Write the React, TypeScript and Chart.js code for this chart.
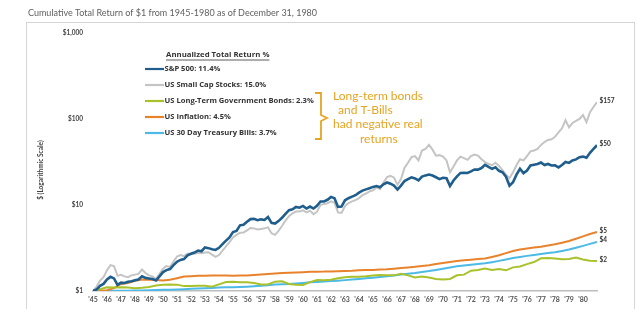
import React, { useEffect, useRef } from 'react';
import { Chart, registerables } from 'chart.js';

Chart.register(...registerables);

// Half-year time positions (start of 1945 to end of 1980)
const periods = [
  1945, 1945.5, 1946, 1946.5, 1947, 1947.5, 1948, 1948.5, 1949, 1949.5,
  1950, 1950.5, 1951, 1951.5, 1952, 1952.5, 1953, 1953.5, 1954, 1954.5,
  1955, 1955.5, 1956, 1956.5, 1957, 1957.5, 1958, 1958.5, 1959, 1959.5,
  1960, 1960.5, 1961, 1961.5, 1962, 1962.5, 1963, 1963.5, 1964, 1964.5,
  1965, 1965.5, 1966, 1966.5, 1967, 1967.5, 1968, 1968.5, 1969, 1969.5,
  1970, 1970.5, 1971, 1971.5, 1972, 1972.5, 1973, 1973.5, 1974, 1974.5,
  1975, 1975.5, 1976, 1976.5, 1977, 1977.5, 1978, 1978.5, 1979, 1979.5,
  1980, 1980.5, 1981,
];

// Quarter time positions for the stock series
const quarters = [
  1945, 1945.25, 1945.5, 1945.75, 1946, 1946.25, 1946.5, 1946.75,
  1947, 1947.25, 1947.5, 1947.75, 1948, 1948.25, 1948.5, 1948.75,
  1949, 1949.25, 1949.5, 1949.75, 1950, 1950.25, 1950.5, 1950.75,
  1951, 1951.25, 1951.5, 1951.75, 1952, 1952.25, 1952.5, 1952.75,
  1953, 1953.25, 1953.5, 1953.75, 1954, 1954.25, 1954.5, 1954.75,
  1955, 1955.25, 1955.5, 1955.75, 1956, 1956.25, 1956.5, 1956.75,
  1957, 1957.25, 1957.5, 1957.75, 1958, 1958.25, 1958.5, 1958.75,
  1959, 1959.25, 1959.5, 1959.75, 1960, 1960.25, 1960.5, 1960.75,
  1961, 1961.25, 1961.5, 1961.75, 1962, 1962.25, 1962.5, 1962.75,
  1963, 1963.25, 1963.5, 1963.75, 1964, 1964.25, 1964.5, 1964.75,
  1965, 1965.25, 1965.5, 1965.75, 1966, 1966.25, 1966.5, 1966.75,
  1967, 1967.25, 1967.5, 1967.75, 1968, 1968.25, 1968.5, 1968.75,
  1969, 1969.25, 1969.5, 1969.75, 1970, 1970.25, 1970.5, 1970.75,
  1971, 1971.25, 1971.5, 1971.75, 1972, 1972.25, 1972.5, 1972.75,
  1973, 1973.25, 1973.5, 1973.75, 1974, 1974.25, 1974.5, 1974.75,
  1975, 1975.25, 1975.5, 1975.75, 1976, 1976.25, 1976.5, 1976.75,
  1977, 1977.25, 1977.5, 1977.75, 1978, 1978.25, 1978.5, 1978.75,
  1979, 1979.25, 1979.5, 1979.75, 1980, 1980.25, 1980.5, 1980.75,
  1981,
];

const sp500 = [
  1.0, 1.04, 1.15, 1.21, 1.36, 1.46, 1.4, 1.18,
  1.25, 1.24, 1.28, 1.3, 1.33, 1.36, 1.48, 1.42,
  1.4, 1.38, 1.33, 1.48, 1.66, 1.75, 1.8, 2.0,
  2.19, 2.3, 2.35, 2.6, 2.71, 2.8, 2.95, 2.9,
  3.21, 3.15, 3.05, 3.0, 3.18, 3.5, 3.85, 4.2,
  4.85, 5.0, 5.8, 5.9, 6.38, 6.85, 6.9, 6.65,
  6.81, 6.7, 7.25, 6.2, 6.07, 6.5, 7.1, 7.9,
  8.71, 8.9, 9.5, 9.3, 9.75, 9.1, 9.6, 9.1,
  9.8, 11.0, 11.0, 11.5, 12.43, 12.0, 9.5, 9.6,
  11.35, 12.0, 12.5, 13.0, 13.94, 14.7, 15.2, 15.7,
  16.24, 16.6, 16.1, 17.4, 18.27, 17.7, 16.8, 15.1,
  16.8, 19.0, 20.0, 21.0, 20.37, 19.3, 21.4, 22.1,
  22.63, 22.0, 21.0, 20.0, 20.71, 20.5, 16.6, 19.3,
  21.54, 23.6, 23.7, 23.6, 24.62, 25.9, 25.8, 26.9,
  29.3, 27.7, 26.3, 27.5, 24.99, 24.0, 21.3, 16.8,
  18.37, 22.5, 26.4, 23.5, 25.2, 28.8, 29.4, 30.0,
  31.2, 29.1, 30.0, 28.8, 28.95, 27.4, 29.2, 31.7,
  30.86, 33.0, 33.9, 36.0, 36.54, 35.4, 40.4, 44.8,
  49.5,
];

const smallCap = [
  1.0, 1.12, 1.32, 1.45, 1.74, 2.0, 1.95, 1.5,
  1.54, 1.48, 1.45, 1.52, 1.55, 1.58, 1.78, 1.62,
  1.52, 1.48, 1.38, 1.58, 1.82, 1.95, 1.9, 2.2,
  2.52, 2.62, 2.55, 2.72, 2.72, 2.72, 2.78, 2.75,
  2.8, 2.82, 2.65, 2.5, 2.62, 2.95, 3.3, 3.7,
  4.2, 4.5, 4.75, 4.8, 5.06, 5.4, 5.35, 5.2,
  5.27, 5.35, 5.5, 4.7, 4.5, 5.0, 5.7, 6.6,
  7.43, 8.0, 8.4, 8.4, 8.65, 8.2, 8.6, 7.8,
  8.36, 10.0, 10.3, 10.5, 11.04, 10.6, 8.2, 8.1,
  9.73, 10.5, 11.0, 11.4, 12.03, 13.0, 13.6, 14.4,
  14.85, 16.0, 15.3, 18.3, 21.06, 21.8, 20.8, 17.2,
  20.0, 27.0, 31.0, 36.0, 37.0, 33.0, 43.0, 45.0,
  50.0, 44.0, 37.5, 38.0, 36.63, 33.0, 24.0, 28.0,
  33.0, 36.5, 35.0, 33.5, 37.0, 38.5, 37.5, 34.0,
  31.5, 30.0, 29.0, 31.0, 28.5, 25.5, 22.5, 20.5,
  24.0, 29.0, 34.0, 33.0, 37.0, 42.0, 43.0, 45.0,
  50.0, 54.0, 57.0, 58.0, 62.0, 70.0, 78.0, 97.0,
  80.0, 90.0, 95.0, 100.0, 111.0, 92.0, 120.0, 138.0,
  157.0,
];

const ltGovBonds = [
  1.0, 1.05, 1.107, 1.1, 1.106, 1.1, 1.077, 1.09, 1.114, 1.16,
  1.185, 1.19, 1.186, 1.14, 1.14, 1.15, 1.154, 1.12, 1.195, 1.27,
  1.281, 1.26, 1.265, 1.24, 1.194, 1.19, 1.283, 1.3, 1.205, 1.18,
  1.177, 1.27, 1.34, 1.33, 1.353, 1.41, 1.446, 1.46, 1.464, 1.48,
  1.515, 1.53, 1.525, 1.52, 1.582, 1.52, 1.436, 1.47, 1.432, 1.38,
  1.359, 1.38, 1.523, 1.55, 1.724, 1.75, 1.823, 1.76, 1.803, 1.74,
  1.882, 1.93, 2.055, 2.17, 2.4, 2.42, 2.384, 2.34, 2.355, 2.45,
  2.327, 2.25, 2.234,
];

const inflation = [
  1.0, 1.01, 1.023, 1.08, 1.209, 1.24, 1.318, 1.36, 1.354, 1.34,
  1.329, 1.35, 1.406, 1.47, 1.489, 1.5, 1.503, 1.51, 1.512, 1.51,
  1.504, 1.51, 1.51, 1.53, 1.554, 1.58, 1.601, 1.62, 1.63, 1.64,
  1.654, 1.67, 1.679, 1.68, 1.691, 1.7, 1.711, 1.72, 1.738, 1.75,
  1.759, 1.78, 1.793, 1.82, 1.853, 1.88, 1.909, 1.95, 1.998, 2.06,
  2.12, 2.18, 2.237, 2.28, 2.313, 2.35, 2.392, 2.49, 2.602, 2.76,
  2.92, 3.03, 3.124, 3.2, 3.274, 3.39, 3.497, 3.64, 3.811, 4.05,
  4.318, 4.6, 4.854,
];

const tBills = [
  1.0, 1.002, 1.003, 1.005, 1.007, 1.009, 1.012, 1.016, 1.02, 1.025,
  1.031, 1.037, 1.044, 1.051, 1.059, 1.068, 1.077, 1.087, 1.097, 1.102,
  1.107, 1.114, 1.124, 1.138, 1.153, 1.17, 1.188, 1.196, 1.206, 1.222,
  1.242, 1.26, 1.276, 1.289, 1.303, 1.32, 1.338, 1.358, 1.379, 1.403,
  1.428, 1.455, 1.483, 1.518, 1.554, 1.587, 1.62, 1.661, 1.705, 1.759,
  1.817, 1.877, 1.935, 1.977, 2.02, 2.057, 2.097, 2.164, 2.241, 2.33,
  2.421, 2.489, 2.561, 2.626, 2.692, 2.76, 2.829, 2.925, 3.033, 3.18,
  3.349, 3.53, 3.724,
];

const seriesLabels = [
  'S&P 500: 11.4%',
  'US Small Cap Stocks: 15.0%',
  'US Long-Term Government Bonds: 2.3%',
  'US Inflation: 4.5%',
  'US 30 Day Treasury Bills: 3.7%',
];
const seriesColors = ['#1f5e8c', '#c4c4c4', '#a9c22c', '#e8832c', '#4cb9e6'];
const seriesWidths = [2.6, 2, 2, 2, 2];
const endLabels = ['$50', '$157', '$2', '$5', '$4'];

const xTickLabels = [
  "'45", "'46", "'47", "'48", "'49", "'50", "'51", "'52", "'53", "'54",
  "'55", "'56", "'57", "'58", "'59", "'60", "'61", "'62", "'63", "'64",
  "'65", "'66", "'67", "'68", "'69", "'70", "'71", "'72", "'73", "'74",
  "'75", "'76", "'77", "'78", "'79", "'80",
];
const firstYear = 1945;
const yTickValues = [1, 10, 100, 1000];
const yTickLabels = ['$1', '$10', '$100', '$1,000'];

const chartTitle = 'Cumulative Total Return of $1 from 1945-1980 as of December 31, 1980';
const yAxisTitle = '$ (Logarithmic Scale)';
const legendTitle = 'Annualized Total Return %';
const noteLines = ['Long-term bonds', 'and T-Bills', 'had negative real', 'returns'];

const FONT = 'Lato, "Noto Sans", sans-serif';
const LFONT = '"Open Sans", "Noto Sans", sans-serif';
const GOLD = '#e6a423';

const decorPlugin = {
  id: 'decor',
  beforeDraw(chart: any) {
    const ctx = chart.ctx;
    ctx.save();
    ctx.fillStyle = '#ffffff';
    ctx.fillRect(0, 0, chart.width, chart.height);
    ctx.strokeStyle = '#d4d4d4';
    ctx.lineWidth = 1;
    ctx.strokeRect(26.5, 22.5, 608, 300);
    ctx.fillStyle = '#606060';
    ctx.font = `9px ${FONT}`;
    ctx.textBaseline = 'middle';
    ctx.textAlign = 'left';
    ctx.fillText(chartTitle, 28, 13);
    // y axis title
    ctx.save();
    ctx.translate(41, 170);
    ctx.rotate(-Math.PI / 2);
    ctx.textAlign = 'center';
    ctx.font = `bold 6.5px ${FONT}`;
    ctx.fillStyle = '#444444';
    ctx.fillText(yAxisTitle, 0, 0);
    ctx.restore();
    ctx.restore();
  },
  afterDraw(chart: any) {
    const ctx = chart.ctx;
    ctx.save();
    // legend
    ctx.textBaseline = 'middle';
    ctx.textAlign = 'left';
    ctx.fillStyle = '#333333';
    ctx.font = `bold 7.8px ${LFONT}`;
    const tw = ctx.measureText(legendTitle).width;
    ctx.fillText(legendTitle, 166, 55);
    ctx.strokeStyle = '#333333';
    ctx.lineWidth = 0.8;
    ctx.beginPath();
    ctx.moveTo(166, 60);
    ctx.lineTo(166 + tw, 60);
    ctx.stroke();
    chart.data.datasets.forEach((ds: any, i: number) => {
      const y = 69 + i * 16;
      ctx.strokeStyle = ds.borderColor;
      ctx.lineWidth = 2.2;
      ctx.beginPath();
      ctx.moveTo(145, y);
      ctx.lineTo(164, y);
      ctx.stroke();
      ctx.fillStyle = '#333333';
      ctx.font = `bold 7.6px ${LFONT}`;
      ctx.fillText(ds.label, 164.5, y);
    });
    // bracket
    ctx.strokeStyle = GOLD;
    ctx.lineWidth = 1.8;
    ctx.beginPath();
    ctx.moveTo(315, 93);
    ctx.lineTo(321, 93);
    ctx.lineTo(321, 115);
    ctx.lineTo(327, 118);
    ctx.lineTo(321, 121);
    ctx.lineTo(321, 139);
    ctx.lineTo(315, 139);
    ctx.stroke();
    ctx.fillStyle = GOLD;
    ctx.font = `12px ${FONT}`;
    const noteX = [333, 338, 333, 360];
    noteLines.forEach((t, i) => ctx.fillText(t, noteX[i], 96 + i * 14.3));
    // end labels
    ctx.fillStyle = '#333333';
    ctx.font = `bold 6.5px ${FONT}`;
    chart.data.datasets.forEach((ds: any, i: number) => {
      const meta = chart.getDatasetMeta(i);
      const pt = meta.data[meta.data.length - 1];
      if (pt) ctx.fillText(endLabels[i], pt.x + 2.5, pt.y - 1.5);
    });
    ctx.restore();
  },
};

export default function App() {
  const ref = useRef<HTMLCanvasElement>(null);
  useEffect(() => {
    const series = [sp500, smallCap, ltGovBonds, inflation, tBills];
    const xs = [quarters, quarters, periods, periods, periods];
    const chart = new Chart(ref.current as HTMLCanvasElement, {
      type: 'line',
      data: {
        datasets: series.map((vals, i) => ({
          label: seriesLabels[i],
          data: vals.map((v, j) => ({ x: xs[i][j], y: v })),
          borderColor: seriesColors[i],
          backgroundColor: seriesColors[i],
          borderWidth: seriesWidths[i],
          pointRadius: 0,
          tension: 0,
          fill: false,
        })),
      },
      options: {
        responsive: false,
        animation: false,
        layout: { padding: { left: 30, top: 33, right: 41, bottom: 0 } },
        plugins: { legend: { display: false }, title: { display: false }, tooltip: { enabled: false } },
        scales: {
          x: {
            type: 'linear',
            min: firstYear,
            max: periods[periods.length - 1],
            grid: { display: false, drawTicks: false },
            border: { display: true, color: '#bdbdbd', width: 1.5 },
            afterBuildTicks: (s: any) => {
              s.ticks = xTickLabels.map((_, i) => ({ value: firstYear + i }));
            },
            afterFit: (s: any) => { s.height = 18; },
            ticks: {
              autoSkip: false,
              maxRotation: 0,
              padding: 5,
              color: '#555555',
              font: { family: FONT, size: 7, weight: 'bold' },
              callback: (v: any) => xTickLabels[Math.round(v) - firstYear] ?? '',
            },
          },
          y: {
            type: 'logarithmic',
            min: 1,
            max: 1000,
            grid: { display: false, drawTicks: false },
            border: { display: false },
            afterBuildTicks: (s: any) => {
              s.ticks = yTickValues.map((v) => ({ value: v }));
            },
            afterFit: (s: any) => { s.width = 63; },
            ticks: {
              padding: 10,
              color: '#444444',
              font: { family: FONT, size: 6.5, weight: 'bold' },
              callback: (v: any) => yTickLabels[yTickValues.indexOf(Number(v))] ?? '',
            },
          },
        },
      } as any,
      plugins: [decorPlugin],
    });
    return () => chart.destroy();
  }, []);
  return (
    <div style={{ position: 'fixed', left: 0, top: 0, width: 638, height: 309, background: '#fff' }}>
      <canvas ref={ref} width={638} height={309} style={{ display: 'block' }} />
    </div>
  );
}
